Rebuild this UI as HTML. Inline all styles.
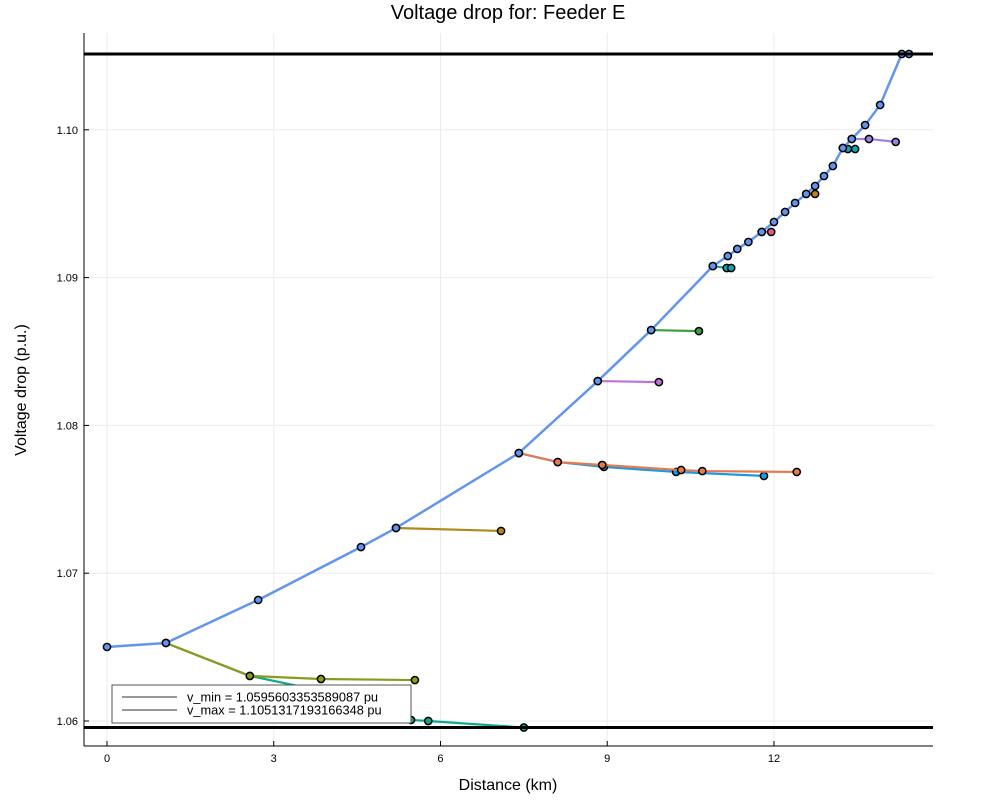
<!DOCTYPE html>
<html><head><meta charset="utf-8"><style>
body{margin:0;background:#fff;font-family:"Liberation Sans",sans-serif}
</style></head><body>
<svg id="chart" width="1000" height="800" xmlns="http://www.w3.org/2000/svg" font-family="Liberation Sans, sans-serif">
<rect width="1000" height="800" fill="#fff"/>
<text x="508" y="19" font-size="20" text-anchor="middle">Voltage drop for: Feeder E</text>
<g id="grid"></g>
<g id="series"></g>
<line x1="84" y1="746" x2="933" y2="746" stroke="#000" stroke-width="1"/>
<line x1="84" y1="33" x2="84" y2="746" stroke="#000" stroke-width="1"/>
<g id="ticks"></g>
<text x="508" y="790" font-size="16" text-anchor="middle">Distance (km)</text>
<text transform="translate(26,390) rotate(-90)" font-size="16" text-anchor="middle">Voltage drop (p.u.)</text>
<g>
<rect x="112" y="685" width="299" height="38" fill="#fff" stroke="#555" stroke-width="1"/>
<line x1="122" y1="697" x2="177" y2="697" stroke="#777" stroke-width="1.5"/>
<text x="187" y="701.5" font-size="12.8">v_min = 1.0595603353589087 pu</text>
<line x1="122" y1="710" x2="177" y2="710" stroke="#777" stroke-width="1.5"/>
<text x="187" y="714.5" font-size="12.8">v_max = 1.1051317193166348 pu</text>
</g>
</svg>
<script>
const xTicks=[0,3,6,9,12];
const yTicks=[1.06,1.07,1.08,1.09,1.10];
const yTickLabels=["1.06","1.07","1.08","1.09","1.10"];
const vMin=1.0595603353589087;
const vMax=1.1051317193166348;
const mainX=[0,1.06,2.72,4.57,5.20,7.41,8.83,9.79,10.90,11.17,11.34,11.54,11.78,12.0,12.20,12.38,12.58,12.74,12.90,13.06,13.24,13.40,13.64,13.91,14.30,14.43];
const mainV=[1.06501,1.06528,1.06819,1.07177,1.07306,1.07813,1.08300,1.08645,1.09078,1.09146,1.09194,1.09241,1.09309,1.09376,1.09444,1.09505,1.09566,1.09620,1.09687,1.09755,1.09877,1.09938,1.10032,1.10168,1.10513,1.10513];
const tealLowX=[1.06,2.57,3.4,5.47,5.78,7.50];
const tealLowV=[1.06528,1.06305,1.06240,1.06007,1.06000,1.05956];
const oliveX=[1.06,2.57,3.85,5.54];
const oliveV=[1.06528,1.06305,1.06284,1.06277];
const goldX=[5.20,7.09];
const goldV=[1.07306,1.07286];
const cyanX=[7.41,8.11,8.94,10.24,11.82];
const cyanV=[1.07813,1.07752,1.07719,1.07685,1.07658];
const orangeX=[7.41,8.11,8.91,10.33,10.71,12.41];
const orangeV=[1.07813,1.07752,1.07732,1.07698,1.07691,1.07685];
const purple1X=[8.83,9.93];
const purple1V=[1.08300,1.08293];
const greenX=[9.79,10.65];
const greenV=[1.08645,1.08638];
const teal2X=[10.90,11.15,11.23];
const teal2V=[1.09078,1.09065,1.09065];
const pinkX=[11.78,11.95];
const pinkV=[1.09309,1.09309];
const orange2X=[12.58,12.74];
const orange2V=[1.09566,1.09566];
const teal3X=[13.24,13.33,13.46];
const teal3V=[1.09877,1.09870,1.09870];
const purple2X=[13.40,13.71,14.19];
const purple2V=[1.09938,1.09938,1.09918];

const NS="http://www.w3.org/2000/svg";
const sx=k=>107+k*55.58;
const sy=v=>721-(v-1.06)*14780;
function mk(tag,attrs,parent){const e=document.createElementNS(NS,tag);for(const k in attrs)e.setAttribute(k,attrs[k]);parent.appendChild(e);return e;}
const grid=document.getElementById('grid'),ticks=document.getElementById('ticks'),ser=document.getElementById('series');
xTicks.forEach(t=>{
 const g=mk('line',{x1:sx(t),x2:sx(t),y1:33,y2:746,stroke:'#ebebeb','stroke-width':1},grid);
 
 
 mk('line',{x1:sx(t),x2:sx(t),y1:746,y2:741,stroke:'#000'},ticks);
 const l=mk('text',{x:sx(t),y:762,'font-size':11,'text-anchor':'middle'},ticks);
 l.textContent=t;
 
 
});
yTicks.forEach((t,i)=>{
 const g=mk('line',{x1:84,x2:933,y1:sy(t),y2:sy(t),stroke:'#ebebeb','stroke-width':1},grid);
 
 
 mk('line',{x1:84,x2:89,y1:sy(t),y2:sy(t),stroke:'#000'},ticks);
 const l=mk('text',{x:78,y:sy(t)+4,'font-size':11,'text-anchor':'end'},ticks);
 l.textContent=yTickLabels[i];
 
 
});
function series(xs,vs,col,name,pts,w){
 const d=xs.map((x,i)=>(i?'L':'M')+sx(x)+','+sy(vs[i])).join('');
 const p=mk('path',{d:d,fill:'none',stroke:col,'stroke-width':w||2.2},ser);
 
 
 (pts||xs.map((_,i)=>i)).forEach(i=>{
  const c=mk('circle',{cx:sx(xs[i]),cy:sy(vs[i]),r:3.6,fill:col,stroke:'#000','stroke-width':1.5},ser);
  
  
 });
}
series(tealLowX,tealLowV,'#10a88a','teal-branch',[1,3,4,5]);
series(oliveX,oliveV,'#8a9a1c','olive-branch');
series(goldX,goldV,'#b08a1e','gold-branch');
series(cyanX,cyanV,'#1a9ae0','cyan-branch');
series(orangeX,orangeV,'#e57a50','orange-branch');
series(purple1X,purple1V,'#c070d8','purple-branch-1');
series(greenX,greenV,'#3aa040','green-branch');
series(teal2X,teal2V,'#10a8a8','teal-branch-2');
series(pinkX,pinkV,'#e05c80','pink-branch');
series(orange2X,orange2V,'#c08020','orange-branch-2');
series(teal3X,teal3V,'#10a8b0','teal-branch-3');
series(purple2X,purple2V,'#a080e0','purple-branch-2');
series(mainX,mainV,'#6495ed','main-feeder',null,2.5);
[vMin,vMax].forEach((v,i)=>{
 const l=mk('line',{x1:84,x2:933,y1:sy(v),y2:sy(v),stroke:'#000','stroke-width':3},ser);
 
 
});
</script>
</body></html>
